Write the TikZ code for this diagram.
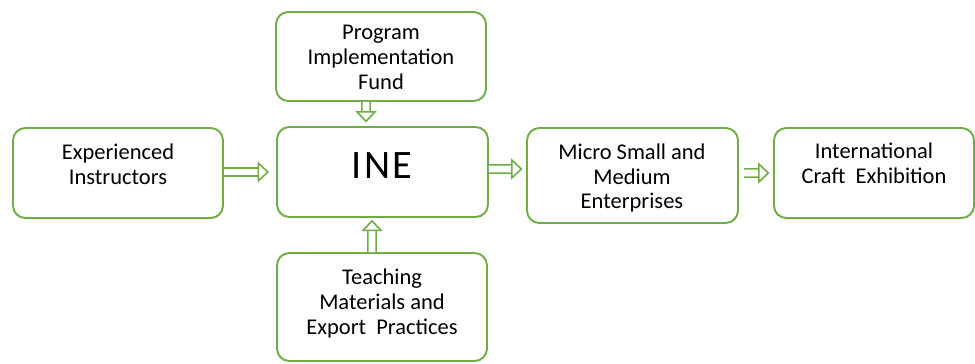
\documentclass[tikz,border=0pt]{standalone}
\usepackage{fontspec}
\setmainfont{Carlito}
\usetikzlibrary{arrows.meta}
\definecolor{leafgreen}{HTML}{70AD47}
\tikzset{
  box/.style={draw=leafgreen, line width=1.1pt, rounded corners=7pt, inner sep=0pt, minimum width=4.2cm},
  boxtext/.style={align=center, inner sep=0pt, font=\fontsize{12.8}{14.2}\selectfont},
  flow/.style={draw=leafgreen, line width=0.9pt, double=white, double distance=3.8pt, -{Triangle[open, length=6.5pt, width=12pt, line width=0.9pt]}},
}
\begin{document}
\begin{tikzpicture}[x=0.02cm, y=-0.02cm]
  \useasboundingbox (0,0) rectangle (975,363);

  % Boxes
  \node[box, minimum height=1.78cm] (fund) at (381,56.5) {};
  \node[box, minimum height=1.80cm, minimum width=4.22cm] (ine) at (382.5,172) {};
  \node[box, minimum height=1.80cm] (instr) at (118,173) {};
  \node[box, minimum height=1.90cm, minimum width=4.22cm] (msme) at (632.5,175.5) {};
  \node[box, minimum height=1.80cm, minimum width=4.0cm] (intl) at (874,173) {};
  \node[box, minimum height=2.16cm] (teach) at (382,307) {};

  % Texts
  \node[boxtext] (fundtext) at (381,57) {Program\\Implementation\\Fund};
  \node[boxtext, font=\fontsize{23}{25}\selectfont] (inetext) at (382,166) {I\hspace{1.5pt}N\hspace{1.5pt}E};
  \node[boxtext] (instrtext) at (118,164.5) {Experienced\\Instructors};
  \node[boxtext] (msmetext) at (632,178) {Micro Small and\\Medium\\Enterprises};
  \node[boxtext] (intltext) at (874,163) {International\\Craft~ Exhibition};
  \node[boxtext] (teachtext) at (382,303.5) {Teaching\\Materials and\\Export~ Practices};

  % Arrows
  \draw[flow] ([xshift=-0.3cm]fund.south) -- ([xshift=-0.33cm,yshift=2pt]ine.north);
  \draw[flow] ([yshift=0.02cm]instr.east) -- ([xshift=-4pt]ine.west);
  \draw[flow] ([yshift=0.06cm]ine.east) -- ([xshift=-2pt,yshift=0.13cm]msme.west);
  \draw[flow] ([xshift=3pt,yshift=0.05cm]msme.east) -- ([xshift=-2pt]intl.west);
  \draw[flow] ([xshift=-0.2cm]teach.north) -- ([xshift=-0.21cm,yshift=-1pt]ine.south);
\end{tikzpicture}
\end{document}
